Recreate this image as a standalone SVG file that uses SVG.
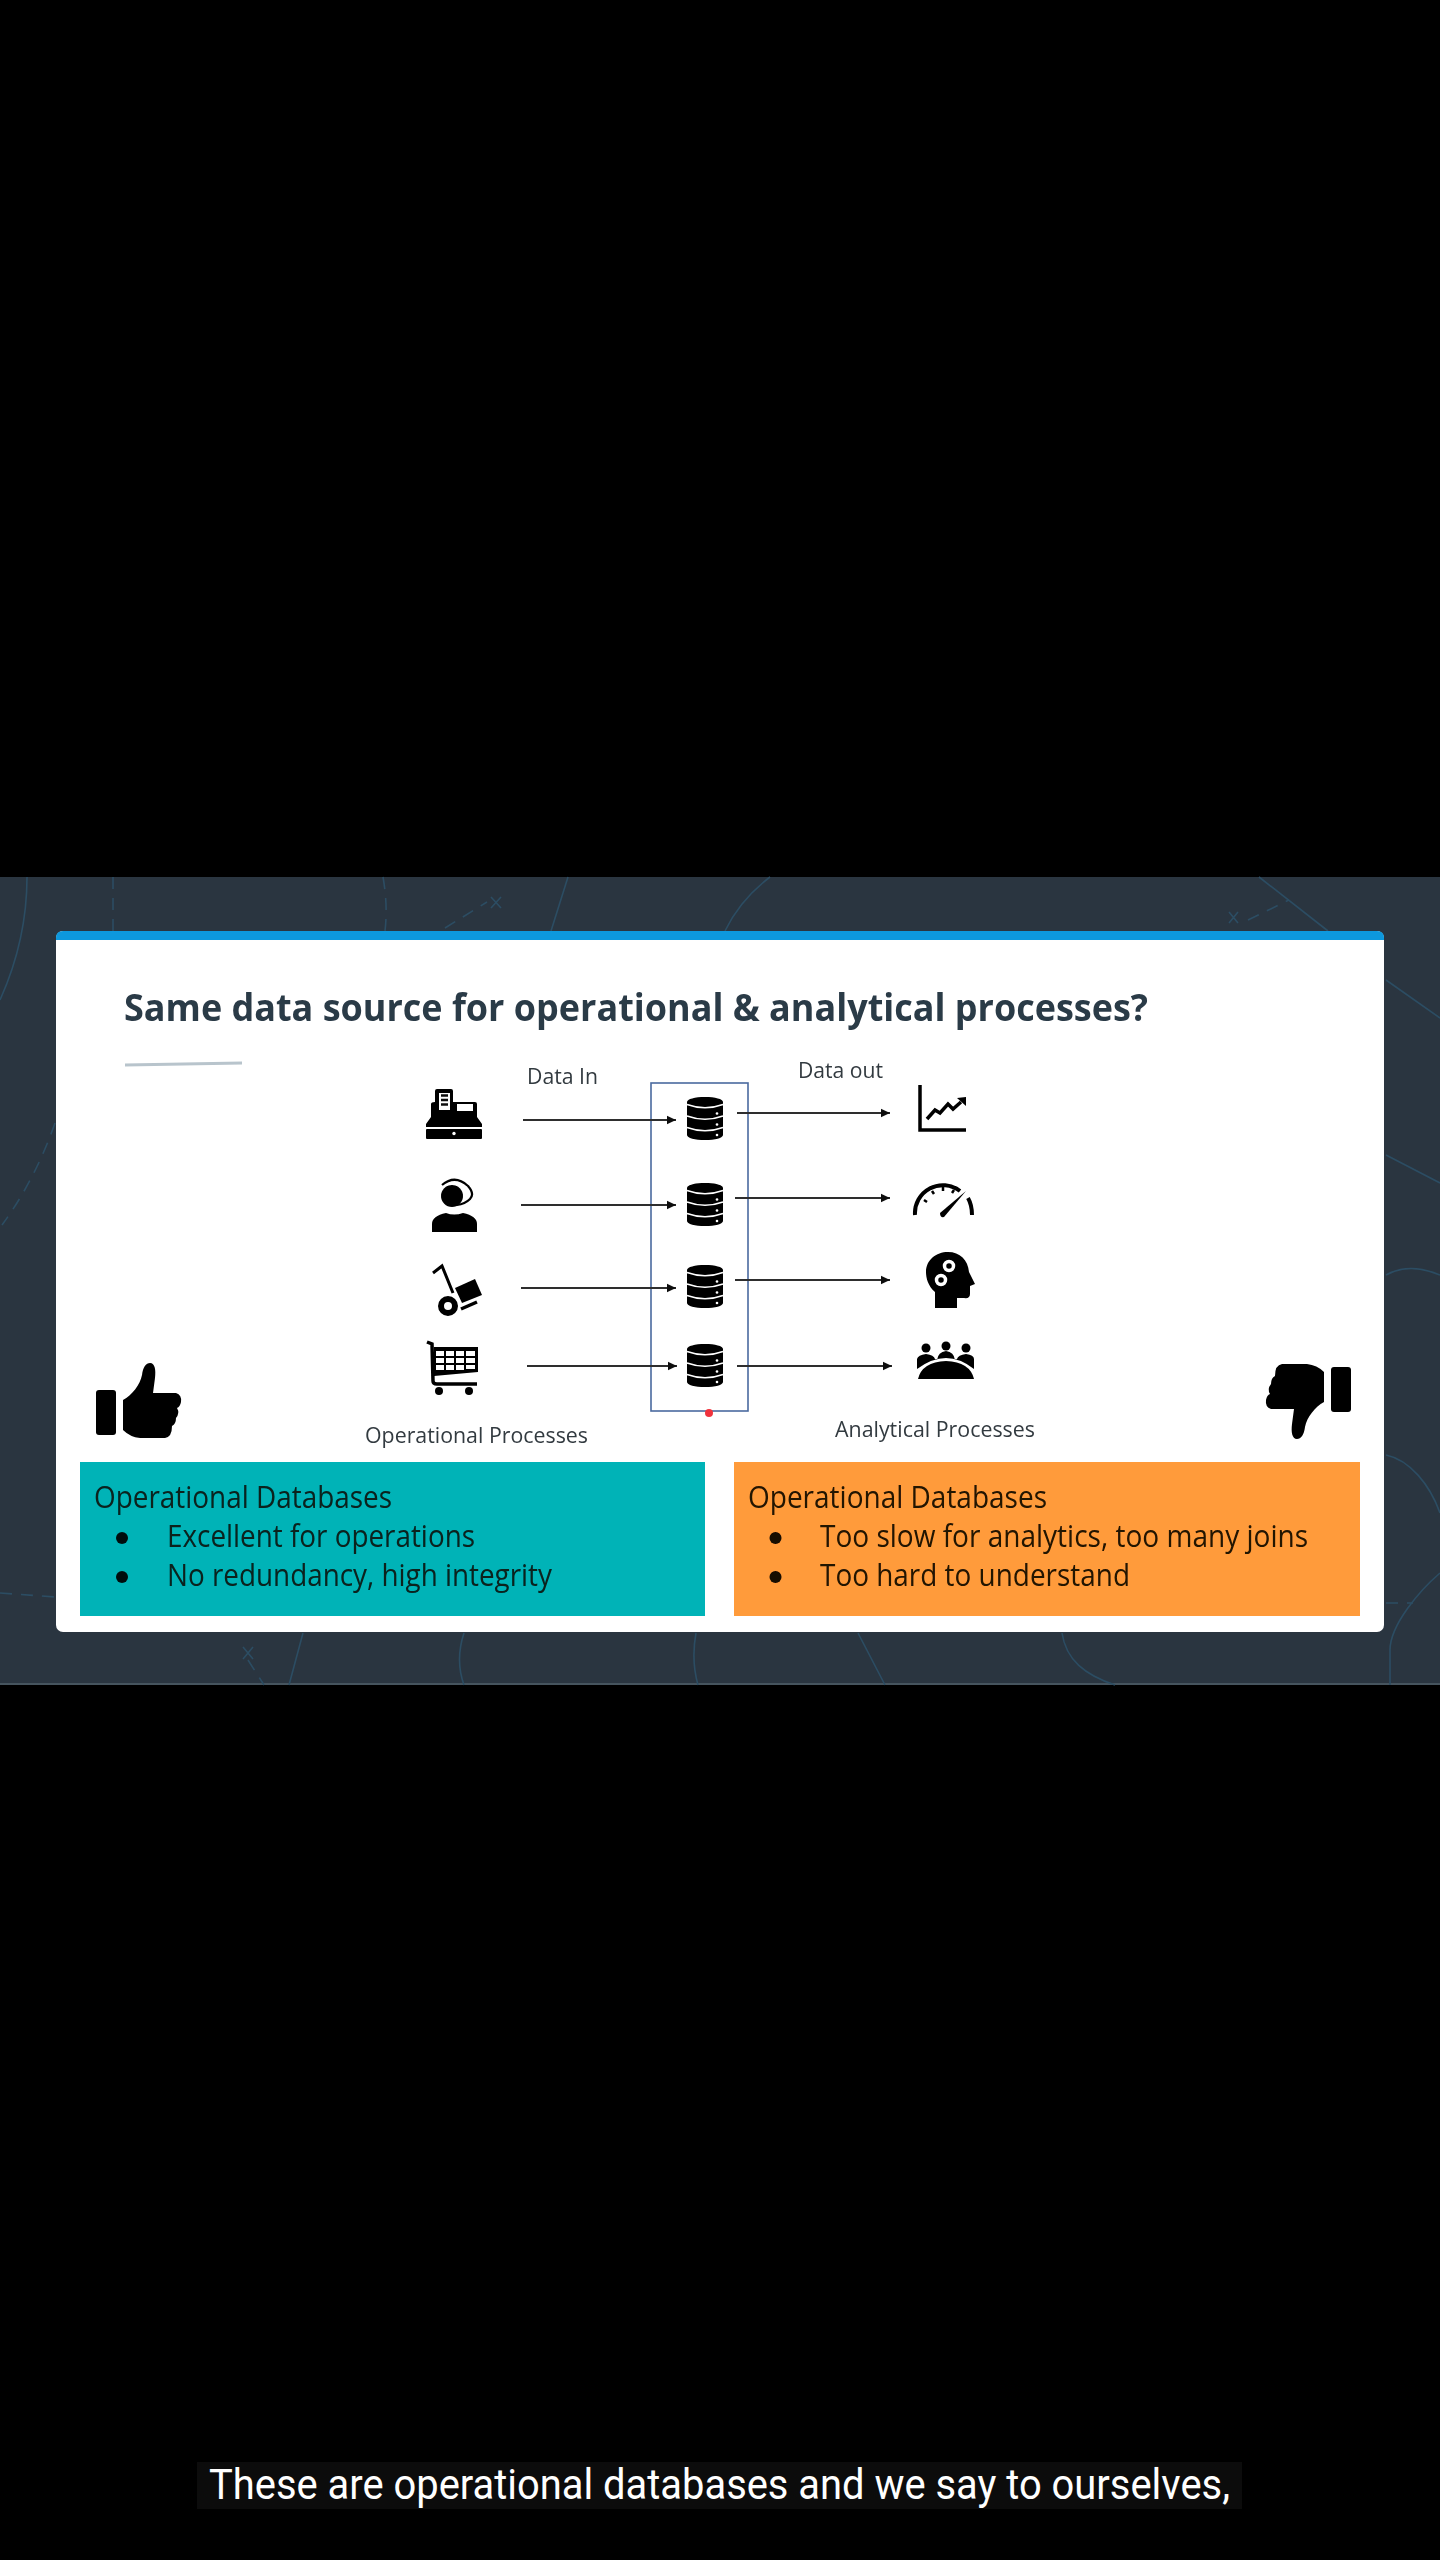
<svg xmlns="http://www.w3.org/2000/svg" xmlns:xlink="http://www.w3.org/1999/xlink" width="1440" height="2560" viewBox="0 0 1440 2560">
<style>
text{font-family:"Open Sans","Noto Sans","Liberation Sans",sans-serif}
.bg{fill:none;stroke:#2c4d63;stroke-width:1.6}
.dash{stroke-dasharray:12 9}
.title{font-size:37px;font-weight:700;fill:#2b3a47}
.lab{font-size:22px;fill:#333a40}
.body{font-size:30.500px;fill:#08211f}
.org{font-size:30.500px;fill:#201204}
.conn{fill:none;stroke:#2e2e2e;stroke-width:2.200;marker-end:url(#arrow)}
.cap{font-family:Roboto,"Liberation Sans",sans-serif;font-size:43px;fill:#fff}
</style>
<defs>
<filter id="soft" x="-2%" y="-2%" width="104%" height="104%"><feGaussianBlur stdDeviation="0.55"/></filter>
<marker id="arrow" markerUnits="userSpaceOnUse" markerWidth="10" markerHeight="10" refX="9" refY="5" orient="auto"><path d="M0 .8L9 5L0 9.2Z" fill="#111"/></marker>
<g id="db">
<path d="M0 5C0 2 8 0 18 0S36 2 36 5V38C36 41 28 43 18 43S0 41 0 38Z" fill="#000"/>
<path d="M0 7.500Q18 14 36 7.500M0 19Q18 25.500 36 19M0 30.500Q18 37 36 30.500" fill="none" stroke="#fff" stroke-width="1.500"/>
<circle cx="30" cy="16.500" r="1.300" fill="#fff"/><circle cx="30" cy="27.500" r="1.300" fill="#fff"/><circle cx="30" cy="38" r="1.300" fill="#fff"/>
</g>
<g id="thumb">
<rect x="96" y="1390" width="20" height="45" rx="3" fill="#000"/>
<path d="M123 1400C132 1395 140 1385 142 1375C143 1367 146 1363 150 1363C155 1363 156 1370 155 1378L153 1393L176 1393Q182 1395 181 1402Q180 1407 177 1408Q180 1413 176 1418Q176 1424 172 1426Q172 1437 165 1438L140 1438Q130 1437 123 1430Z" fill="#000"/>
</g>
</defs>
<rect width="1440" height="2560" fill="#000"/>
<g id="background">
<rect y="877" width="1440" height="808" fill="#2a3540"/>
<rect y="1683" width="1440" height="2" fill="#46545e"/>
<path class="bg" d="M27 877C27 920 18 960 0 1000M568 877L551 931M770 877Q740 900 725 931M1259 877L1328 931M1386 980L1440 1018M1386 1155L1440 1183M1386 1275Q1409 1262 1440 1275M303 1633L289 1685M464 1633Q455 1660 464 1685M696 1633Q691 1660 698 1685M858 1633L885 1685M1062 1633C1066 1660 1085 1675 1115 1685M1386 1455C1410 1460 1430 1485 1440 1513M1440 1573C1420 1590 1390 1625 1390 1650V1685"/>
<path class="bg dash" d="M113 877V931M383 877Q388 905 385 931M445 928L487 902M1248 920L1289 900M55 1123Q35 1180 2 1225M0 1593L55 1597M248 1660L264 1685M1386 1603H1413"/>
<path class="bg" d="M491 897L501 908M501 897L491 908M1229 912L1238 923M1238 912L1229 923M243 1647L253 1659M253 1647L243 1659"/>
</g>
<g id="slide" filter="url(#soft)">
<g id="panel">
<rect x="56" y="931" width="1328" height="701" rx="7" fill="#fff"/>
<path d="M56 940V938Q56 931 63 931H1377Q1384 931 1384 938V940Z" fill="#0a98dd"/>
</g>
<g id="heading">
<text class="title" x="124" y="1021" textLength="1024" lengthAdjust="spacingAndGlyphs">Same data source for operational &amp; analytical processes?</text>
<path d="M125 1065L242 1063" stroke="#b8c4cc" stroke-width="3" fill="none"/>
</g>
<g id="data-in"><text class="lab" x="527" y="1084" textLength="71" lengthAdjust="spacingAndGlyphs">Data In</text></g>
<g id="data-out"><text class="lab" x="798" y="1078" textLength="85" lengthAdjust="spacingAndGlyphs">Data out</text></g>
<g id="operational-processes"><text class="lab" x="365" y="1443" textLength="223" lengthAdjust="spacingAndGlyphs">Operational Processes</text></g>
<g id="analytical-processes"><text class="lab" x="835" y="1437" textLength="200" lengthAdjust="spacingAndGlyphs">Analytical Processes</text></g>
<g id="register">
<path d="M435 1102V1091Q435 1089 437 1089H451Q453 1089 453 1091V1102H475Q477 1102 477 1104V1117L482 1124V1127H426V1124L431 1117V1104Q431 1102 435 1102Z" fill="#000"/>
<path d="M439 1093H450V1110H439Z" fill="#fff"/>
<path d="M441 1095.500H448M441 1100H448M441 1104.500H448" stroke="#111" stroke-width="2.500"/>
<rect x="457" y="1104" width="16" height="7" fill="#fff"/>
<rect x="426" y="1129" width="56" height="10" rx="1" fill="#000"/>
<circle cx="454" cy="1133.500" r="1.700" fill="#fff"/>
</g>
<g id="agent">
<circle cx="452" cy="1196" r="11" fill="#000"/>
<path d="M442 1185Q455 1174 468 1186Q475 1194 470 1199Q465 1204 457 1205" fill="none" stroke="#000" stroke-width="2.200"/>
<path d="M432 1232V1224Q432 1216 446 1213Q454 1216 463 1213Q477 1216 477 1224V1232Z" fill="#000"/>
</g>
<g id="hand-truck">
<path d="M433 1273L442 1266L453 1293" fill="none" stroke="#000" stroke-width="3"/>
<circle cx="448" cy="1306" r="7" fill="none" stroke="#000" stroke-width="6"/>
<path d="M455 1288L475 1279L482 1295L462 1303Z" fill="#000"/>
<path d="M461 1309L477 1302" stroke="#000" stroke-width="3.500"/>
</g>
<g id="cart">
<path d="M427 1342L432 1344L433 1381Q433 1384 437 1384H477" fill="none" stroke="#000" stroke-width="3.500"/>
<path d="M434 1347H478V1372L434 1376Z" fill="#000"/>
<path d="M436 1351h8v5h-8zM446 1351h8v5h-8zM456 1351h8v5h-8zM466 1351h9v5h-9zM436 1358h8v5h-8zM446 1358h8v5h-8zM456 1358h8v5h-8zM466 1358h9v5h-9zM436 1365h8v5h-8zM446 1365h8v5h-8zM456 1365h8v5h-8zM466 1365h9v4h-9z" fill="#fff"/>
<circle cx="439" cy="1391" r="4" fill="#000"/><circle cx="469" cy="1391" r="4" fill="#000"/>
</g>
<g id="database-box"><rect x="651" y="1083" width="97" height="328" fill="none" stroke="#4a6a9f" stroke-width="1.600"/></g>
<g id="database-1"><use href="#db" x="687" y="1097"/></g>
<g id="database-2"><use href="#db" x="687" y="1183"/></g>
<g id="database-3"><use href="#db" x="687" y="1265"/></g>
<g id="database-4"><use href="#db" x="687" y="1344"/></g>
<g id="pointer"><circle cx="709" cy="1413" r="4" fill="#f0333c"/></g>
<g id="chart">
<path d="M920 1085V1130H966" fill="none" stroke="#000" stroke-width="3.500"/>
<path d="M927 1119L935 1110L940 1113L948 1104L953 1109L961 1102" fill="none" stroke="#000" stroke-width="3.500"/>
<path d="M957 1098L966 1097L966 1106Z" fill="#000"/>
</g>
<g id="gauge">
<path d="M915 1215A28 28 0 0 1 960 1191M968 1198Q972 1205 972 1215" fill="none" stroke="#000" stroke-width="4"/>
<path d="M924 1200l3 2M932 1191l2 3M943 1187v4M954 1190l-2 3" stroke="#000" stroke-width="2.500"/>
<path d="M940 1213L966 1191L944 1217Q940 1218 940 1213Z" fill="#000"/>
</g>
<g id="head">
<path d="M935 1308V1292C928 1286 926 1278 926 1272C926 1260 936 1252 948 1252C960 1252 968 1260 969 1272L975 1284L970 1286V1294Q970 1299 964 1298H957V1308Z" fill="#000"/>
<circle cx="949" cy="1266" r="4.500" fill="none" stroke="#fff" stroke-width="3.500"/>
<circle cx="941" cy="1280" r="4.500" fill="none" stroke="#fff" stroke-width="3.500"/>
</g>
<g id="team">
<circle cx="926" cy="1348" r="4.500" fill="#000"/><circle cx="946" cy="1346" r="4.500" fill="#000"/><circle cx="966" cy="1348" r="4.500" fill="#000"/>
<path d="M917 1369V1359Q918 1355 926 1354Q934 1355 935 1359L937 1360Q938 1352 946 1351Q954 1352 955 1360L957 1359Q958 1355 966 1354Q974 1355 974 1359V1369Q960 1358 946 1358Q932 1358 917 1369Z" fill="#000"/>
<path d="M918 1379Q922 1362 946 1361Q970 1362 974 1379Z" fill="#000"/>
</g>
<g id="connectors">
<path class="conn" d="M523 1120H676"/>
<path class="conn" d="M521 1205H676"/>
<path class="conn" d="M521 1288H676"/>
<path class="conn" d="M527 1366H677"/>
<path class="conn" d="M737 1113H890"/>
<path class="conn" d="M735 1198H890"/>
<path class="conn" d="M735 1280H890"/>
<path class="conn" d="M737 1366H892"/>
</g>
<g id="thumbs-up"><use href="#thumb"/></g>
<g id="thumbs-down"><use href="#thumb" transform="translate(1447 2802) rotate(180)"/></g>
<g id="pros">
<rect x="80" y="1462" width="625" height="154" fill="#02b3b7"/>
<text class="body" x="94" y="1508" textLength="298" lengthAdjust="spacingAndGlyphs">Operational Databases</text>
<circle cx="122" cy="1538" r="6" fill="#021010"/>
<text class="body" x="167" y="1547" textLength="308" lengthAdjust="spacingAndGlyphs">Excellent for operations</text>
<circle cx="122" cy="1577" r="6" fill="#021010"/>
<text class="body" x="167" y="1586" textLength="385" lengthAdjust="spacingAndGlyphs">No redundancy, high integrity</text>
</g>
<g id="cons">
<rect x="734" y="1462" width="626" height="154" fill="#ff9b3b"/>
<text class="org" x="748" y="1508" textLength="299" lengthAdjust="spacingAndGlyphs">Operational Databases</text>
<circle cx="775.500" cy="1538" r="6" fill="#120800"/>
<text class="org" x="820" y="1547" textLength="488" lengthAdjust="spacingAndGlyphs">Too slow for analytics, too many joins</text>
<circle cx="775.500" cy="1577" r="6" fill="#120800"/>
<text class="org" x="820" y="1586" textLength="310" lengthAdjust="spacingAndGlyphs">Too hard to understand</text>
</g>
</g>
<g id="caption">
<rect x="197" y="2462" width="1045" height="47" fill="#0c0c0c"/>
<text class="cap" x="209" y="2499" textLength="1021" lengthAdjust="spacingAndGlyphs">These are operational databases and we say to ourselves,</text>
</g>
</svg>
